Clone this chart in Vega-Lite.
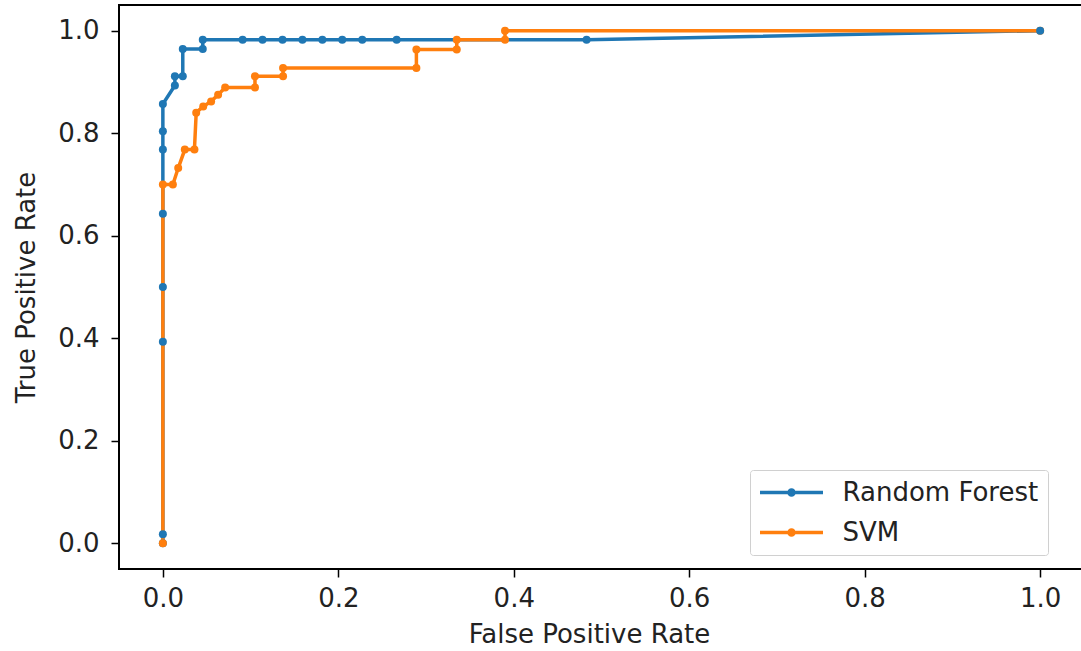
{
  "$schema": "https://vega.github.io/schema/vega-lite/v6.json",
  "autosize": {"type": "none"},
  "width": 965,
  "height": 564,
  "padding": {"left": 119, "top": 5, "right": 0, "bottom": 82},
  "background": "white",
  "config": {
    "font": "DejaVu Sans",
    "view": {"stroke": "black", "strokeWidth": 2},
    "axis": {
      "grid": false,
      "domain": false,
      "tickColor": "black",
      "tickWidth": 1.5,
      "tickSize": 8,
      "labelFont": "DejaVu Sans",
      "labelFontSize": 26,
      "labelColor": "#222",
      "titleFont": "DejaVu Sans",
      "titleFontSize": 26,
      "titleFontWeight": "normal",
      "titleColor": "#222"
    }
  },
  "data": {
    "values": [
      {"model": "Random Forest", "i": 0, "fpr": 0, "tpr": 0},
      {"model": "Random Forest", "i": 1, "fpr": 0, "tpr": 0.018},
      {"model": "Random Forest", "i": 2, "fpr": 0, "tpr": 0.393},
      {"model": "Random Forest", "i": 3, "fpr": 0, "tpr": 0.5},
      {"model": "Random Forest", "i": 4, "fpr": 0, "tpr": 0.643},
      {"model": "Random Forest", "i": 5, "fpr": 0, "tpr": 0.768},
      {"model": "Random Forest", "i": 6, "fpr": 0, "tpr": 0.804},
      {"model": "Random Forest", "i": 7, "fpr": 0, "tpr": 0.857},
      {"model": "Random Forest", "i": 8, "fpr": 0.0137, "tpr": 0.893},
      {"model": "Random Forest", "i": 9, "fpr": 0.0137, "tpr": 0.911},
      {"model": "Random Forest", "i": 10, "fpr": 0.0227, "tpr": 0.911},
      {"model": "Random Forest", "i": 11, "fpr": 0.0227, "tpr": 0.964},
      {"model": "Random Forest", "i": 12, "fpr": 0.0455, "tpr": 0.964},
      {"model": "Random Forest", "i": 13, "fpr": 0.0455, "tpr": 0.982},
      {"model": "Random Forest", "i": 14, "fpr": 0.0909, "tpr": 0.982},
      {"model": "Random Forest", "i": 15, "fpr": 0.1136, "tpr": 0.982},
      {"model": "Random Forest", "i": 16, "fpr": 0.1364, "tpr": 0.982},
      {"model": "Random Forest", "i": 17, "fpr": 0.1591, "tpr": 0.982},
      {"model": "Random Forest", "i": 18, "fpr": 0.1818, "tpr": 0.982},
      {"model": "Random Forest", "i": 19, "fpr": 0.2045, "tpr": 0.982},
      {"model": "Random Forest", "i": 20, "fpr": 0.2273, "tpr": 0.982},
      {"model": "Random Forest", "i": 21, "fpr": 0.2665, "tpr": 0.982},
      {"model": "Random Forest", "i": 22, "fpr": 0.483, "tpr": 0.982},
      {"model": "Random Forest", "i": 23, "fpr": 1, "tpr": 1},
      {"model": "SVM", "i": 0, "fpr": 0, "tpr": 0},
      {"model": "SVM", "i": 1, "fpr": 0, "tpr": 0.7},
      {"model": "SVM", "i": 2, "fpr": 0.0114, "tpr": 0.7},
      {"model": "SVM", "i": 3, "fpr": 0.0175, "tpr": 0.732},
      {"model": "SVM", "i": 4, "fpr": 0.025, "tpr": 0.768},
      {"model": "SVM", "i": 5, "fpr": 0.036, "tpr": 0.768},
      {"model": "SVM", "i": 6, "fpr": 0.038, "tpr": 0.84},
      {"model": "SVM", "i": 7, "fpr": 0.046, "tpr": 0.852},
      {"model": "SVM", "i": 8, "fpr": 0.055, "tpr": 0.862},
      {"model": "SVM", "i": 9, "fpr": 0.063, "tpr": 0.875},
      {"model": "SVM", "i": 10, "fpr": 0.071, "tpr": 0.889},
      {"model": "SVM", "i": 11, "fpr": 0.105, "tpr": 0.889},
      {"model": "SVM", "i": 12, "fpr": 0.105, "tpr": 0.911},
      {"model": "SVM", "i": 13, "fpr": 0.137, "tpr": 0.911},
      {"model": "SVM", "i": 14, "fpr": 0.137, "tpr": 0.927},
      {"model": "SVM", "i": 15, "fpr": 0.289, "tpr": 0.927},
      {"model": "SVM", "i": 16, "fpr": 0.289, "tpr": 0.963},
      {"model": "SVM", "i": 17, "fpr": 0.335, "tpr": 0.963},
      {"model": "SVM", "i": 18, "fpr": 0.335, "tpr": 0.982},
      {"model": "SVM", "i": 19, "fpr": 0.39, "tpr": 0.982},
      {"model": "SVM", "i": 20, "fpr": 0.39, "tpr": 1.0},
      {"model": "SVM", "i": 21, "fpr": 1, "tpr": 1}
    ]
  },
  "mark": {"type": "line", "strokeWidth": 3.5, "point": {"filled": true, "size": 64, "opacity": 1}},
  "encoding": {
    "x": {
      "field": "fpr", "type": "quantitative",
      "scale": {"domain": [-0.05, 1.05], "nice": false, "zero": false},
      "axis": {"values": [0, 0.2, 0.4, 0.6, 0.8, 1.0], "format": ".1f", "title": "False Positive Rate", "labelPadding": 8, "titlePadding": 10, "titleX": 470}
    },
    "y": {
      "field": "tpr", "type": "quantitative",
      "scale": {"domain": [-0.05, 1.05], "nice": false, "zero": false},
      "axis": {"values": [0, 0.2, 0.4, 0.6, 0.8, 1.0], "format": ".1f", "title": "True Positive Rate", "labelPadding": 12, "titlePadding": 18}
    },
    "order": {"field": "i", "type": "quantitative"},
    "color": {
      "field": "model", "type": "nominal",
      "scale": {"domain": ["Random Forest", "SVM"], "range": ["#1f77b4", "#ff7f0e"]},
      "legend": {
        "title": null,
        "orient": "none",
        "legendX": 631,
        "legendY": 465,
        "symbolType": "M-1.25,0H5.05M1.65,0A0.25,0.25 0 1,0 2.15,0A0.25,0.25 0 1,0 1.65,0",
        "symbolSize": 400,
        "symbolStrokeWidth": 3.5,
        "labelFontSize": 26,
        "labelFont": "DejaVu Sans",
        "labelColor": "#222",
        "labelOffset": 57,
        "rowPadding": 14,
        "padding": 9.5,
        "strokeColor": "#d0d0d0",
        "fillColor": "white",
        "cornerRadius": 3,
        "labelLimit": 400
      }
    }
  }
}
